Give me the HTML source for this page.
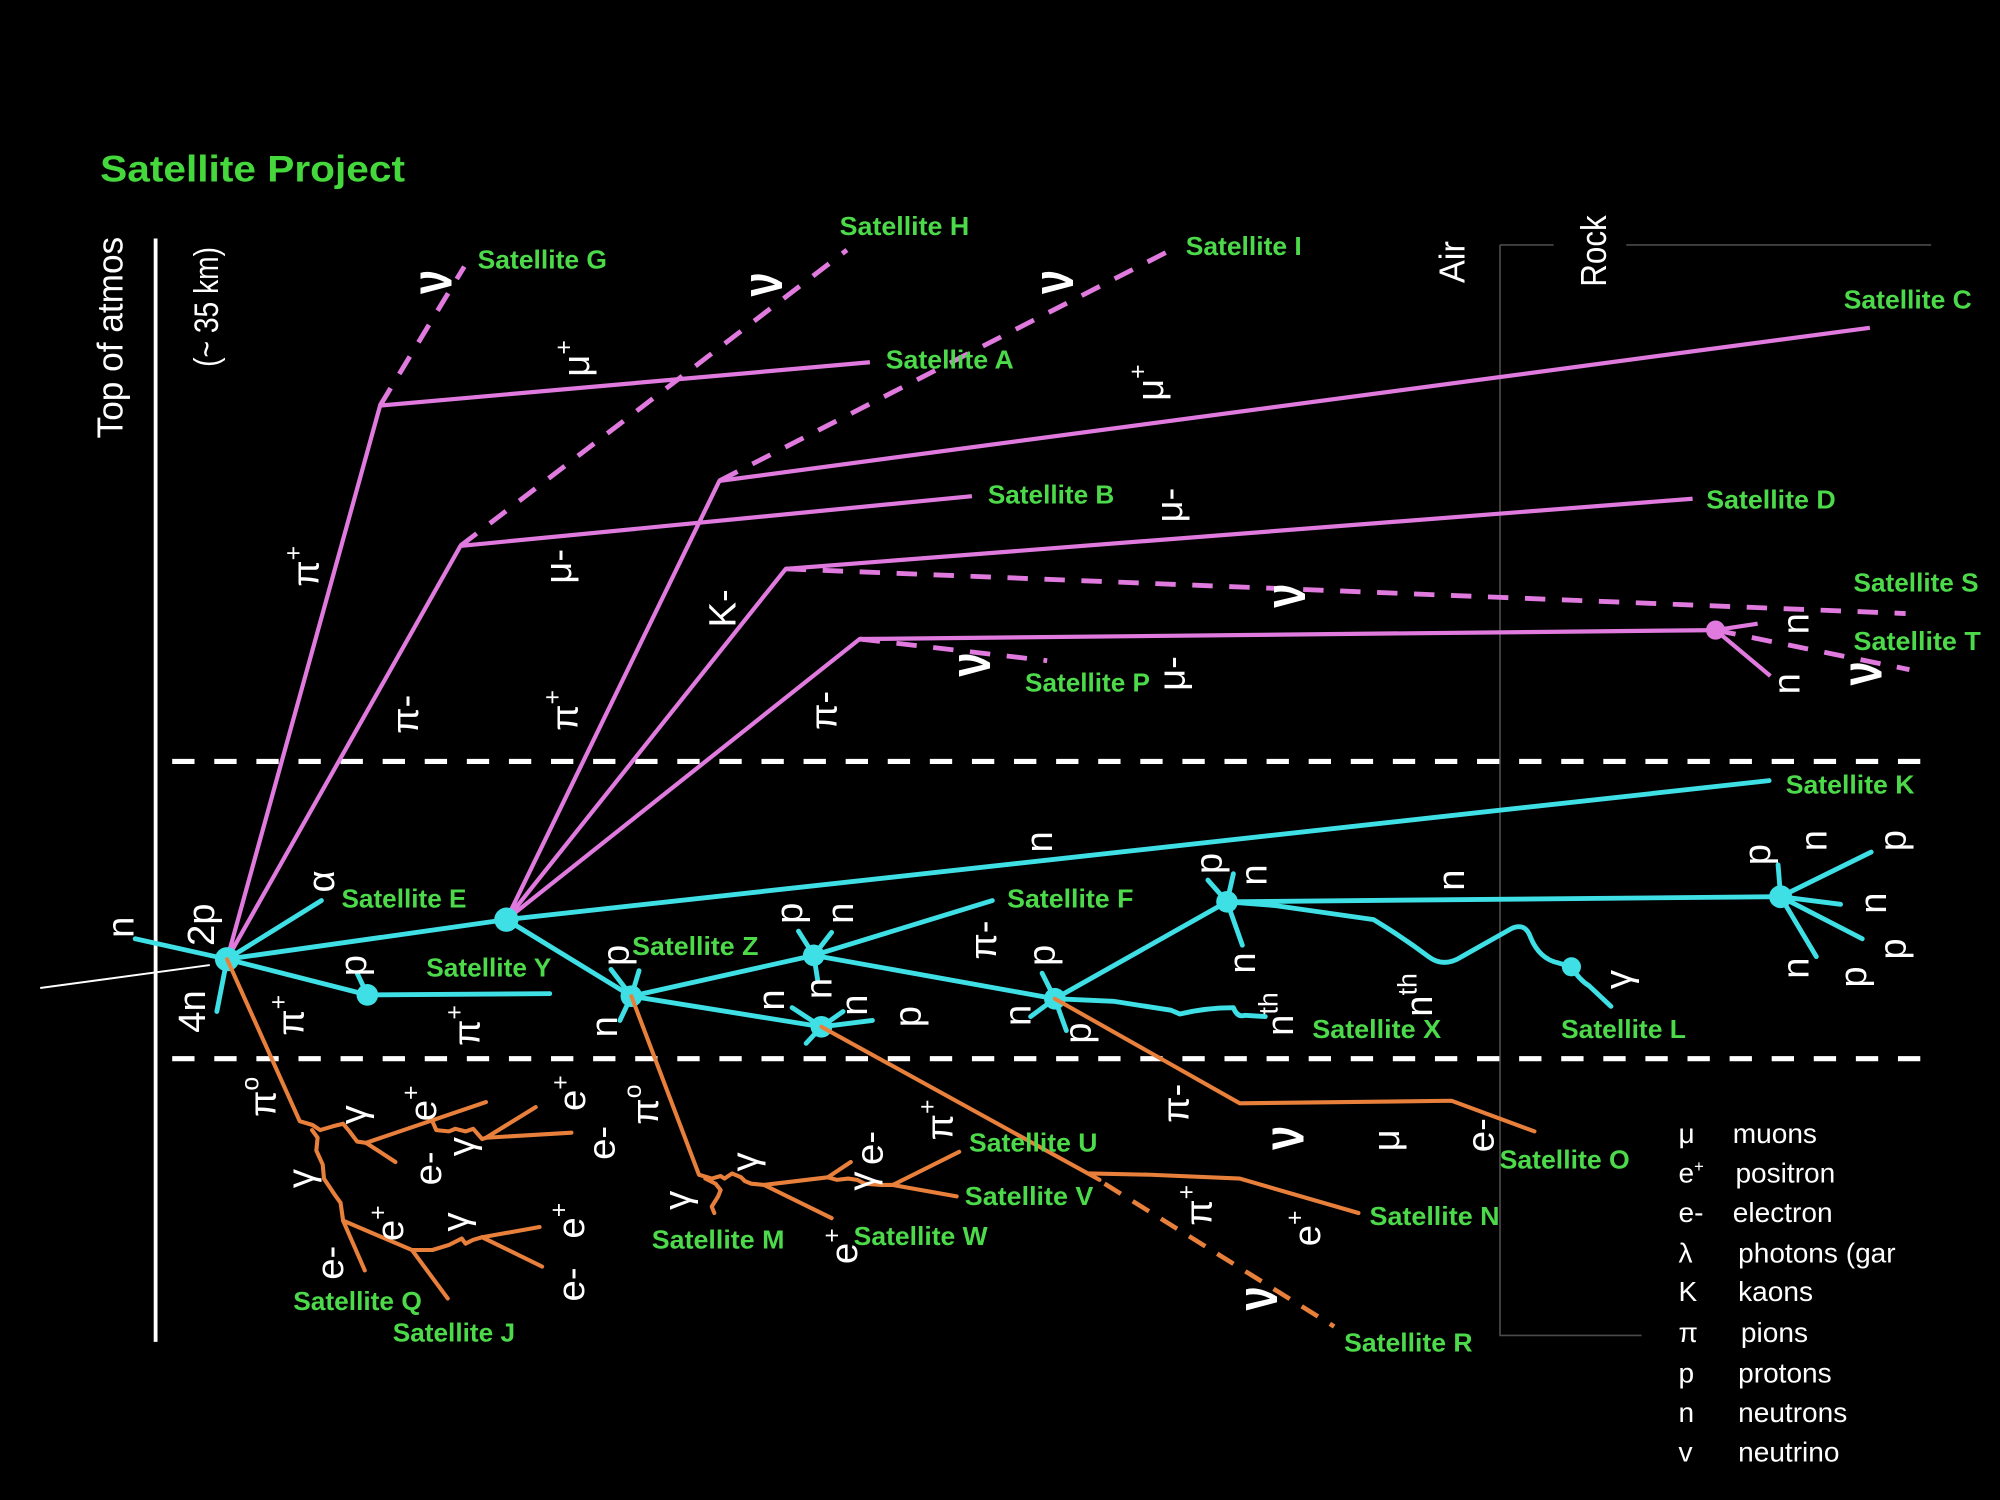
<!DOCTYPE html>
<html>
<head>
<meta charset="utf-8">
<style>
html,body{margin:0;padding:0;background:#000;overflow:hidden;}
svg{display:block;}
.w{fill:#fff;font-family:"Liberation Sans",sans-serif;font-size:30px;text-anchor:middle;dominant-baseline:central;}
.nu{fill:#fff;font-family:"Liberation Sans",sans-serif;font-size:34px;font-weight:bold;text-anchor:middle;dominant-baseline:central;}
.g{fill:#4cd94a;font-family:"Liberation Sans",sans-serif;font-weight:bold;font-size:20px;}
.lg{fill:#fff;font-family:"Liberation Sans",sans-serif;font-size:22px;}
.pk{stroke:#e07adf;stroke-width:3.3;fill:none;stroke-linejoin:round;}
.pkd{stroke:#e07adf;stroke-width:3.8;fill:none;stroke-dasharray:16 13;}
.cy{stroke:#3fdfe6;stroke-width:3.8;fill:none;stroke-linejoin:round;stroke-linecap:round;}
.or{stroke:#e8803c;stroke-width:3.2;fill:none;stroke-linejoin:round;stroke-linecap:round;}
.ord{stroke:#e8803c;stroke-width:3.6;fill:none;stroke-dasharray:15 11;}
</style>
</head>
<body>
<svg width="2000" height="1500" viewBox="0 0 1568 1176" xmlns="http://www.w3.org/2000/svg">
<rect x="0" y="0" width="1568" height="1176" fill="#000"/>

<!-- gray region box -->
<path d="M1176,192 V1047 H1287 M1176,192 H1218 M1275,192 H1514" stroke="#4a4a4a" stroke-width="1.3" fill="none"/>

<!-- title -->
<text x="78.5" y="142.5" textLength="239" lengthAdjust="spacingAndGlyphs" style="fill:#45d83c;font-family:'Liberation Sans',sans-serif;font-weight:bold;font-size:29px;">Satellite Project</text>

<!-- left axis -->
<line x1="122" y1="187" x2="122" y2="1052" stroke="#fff" stroke-width="3"/>
<line x1="31.5" y1="774.6" x2="164.5" y2="756.6" stroke="#fff" stroke-width="1.5"/>
<text transform="translate(96,343.7) rotate(-90)" textLength="158" lengthAdjust="spacingAndGlyphs" style="fill:#fff;font-family:'Liberation Sans',sans-serif;font-size:28px;">Top of atmos</text>
<text transform="translate(171,287.6) rotate(-90)" textLength="94" lengthAdjust="spacingAndGlyphs" style="fill:#fff;font-family:'Liberation Sans',sans-serif;font-size:27px;">(~ 35 km)</text>

<!-- Air / Rock -->
<text transform="translate(1148,222) rotate(-90)" textLength="33" lengthAdjust="spacingAndGlyphs" style="fill:#fff;font-family:'Liberation Sans',sans-serif;font-size:28px;">Air</text>
<text transform="translate(1259,224.8) rotate(-90)" textLength="56" lengthAdjust="spacingAndGlyphs" style="fill:#fff;font-family:'Liberation Sans',sans-serif;font-size:28px;">Rock</text>

<!-- dashed white band lines -->
<line x1="135" y1="597" x2="1510" y2="597" stroke="#fff" stroke-width="4" stroke-dasharray="17.5 15.5"/>
<line x1="135" y1="830" x2="1510" y2="830" stroke="#fff" stroke-width="4" stroke-dasharray="17.5 15.5"/>

<!-- pink lines -->
<path class="pk" d="M178,752 L298,318 L682,284"/>
<path class="pkd" d="M298,318 L364,209"/>
<path class="pk" d="M178,752 L361,428 L762,389"/>
<path class="pkd" d="M361,428 L664,196"/>
<path class="pk" d="M397,721 L564,377 L1466,257"/>
<path class="pkd" d="M564,377 L916,197"/>
<path class="pk" d="M397,721 L616,446 L1327,391"/>
<path class="pkd" d="M616,446 L1494,481"/>
<path class="pk" d="M397,721 L674,501 L1345,494"/>
<path class="pkd" d="M674,501 L821,518"/>
<path class="pk" d="M1345,494 L1378,489 M1345,494 L1388,530"/>
<path class="pkd" d="M1345,494 L1497,525"/>
<circle cx="1345" cy="494" r="7.5" fill="#e07adf"/>

<!-- cyan lines -->
<path class="cy" d="M106,736 L178,752"/>
<path class="cy" d="M178,752 L252,706"/>
<path class="cy" d="M178,752 L170,793"/>
<path class="cy" d="M178,752 L397,721"/>
<path class="cy" d="M178,752 L288,780 L431,779"/>
<path class="cy" d="M288,780 L280,763"/>
<path class="cy" d="M397,721 L1387,612"/>
<path class="cy" d="M397,721 L495,781"/>
<path class="cy" d="M495,781 L479,760 M495,781 L501,761 M495,781 L486,800"/>
<path class="cy" d="M495,781 L638,749"/>
<path class="cy" d="M638,749 L626,730 M638,749 L652,731 M638,749 L641,768"/>
<path class="cy" d="M638,749 L778,706"/>
<path class="cy" d="M495,781 L644,805"/>
<path class="cy" d="M644,805 L621,790 M644,805 L661,793 M644,805 L684,800 M644,805 L632,818"/>
<path class="cy" d="M638,749 L827,783"/>
<path class="cy" d="M827,783 L817,763 M827,783 L808,797 M827,783 L836,808"/>
<path class="cy" d="M827,783 L962,707"/>
<path class="cy" d="M962,707 L947,690 M962,707 L967,685 M962,707 L974,741"/>
<path class="cy" d="M962,707 L1396,703"/>
<path class="cy" d="M1396,703 L1394,678 M1396,703 L1467,668 M1396,703 L1443,709 M1396,703 L1460,736 M1396,703 L1424,750"/>
<path class="cy" d="M962,707 L1000,710 L1077,721 Q1100,735 1120,750 Q1132,759 1146,750 L1185,728 Q1196,723 1200,735 Q1207,752 1222,755 L1232,758 Q1238,768 1246,773 L1263,789"/>
<path class="cy" d="M827,783 L873,785 L918,792 L925,795 Q945,790 967,790 Q970,798 976,796 L992,797"/>
<circle cx="178" cy="752" r="9.5" fill="#3fdfe6"/>
<circle cx="397" cy="721" r="9.5" fill="#3fdfe6"/>
<circle cx="288" cy="780" r="8.5" fill="#3fdfe6"/>
<circle cx="495" cy="781" r="8.5" fill="#3fdfe6"/>
<circle cx="638" cy="749" r="8.5" fill="#3fdfe6"/>
<circle cx="644" cy="805" r="8.5" fill="#3fdfe6"/>
<circle cx="827" cy="783" r="8.5" fill="#3fdfe6"/>
<circle cx="962" cy="707" r="8.5" fill="#3fdfe6"/>
<circle cx="1396" cy="703" r="9" fill="#3fdfe6"/>
<circle cx="1232" cy="758" r="7.5" fill="#3fdfe6"/>

<!-- orange lines -->
<path class="or" d="M178,752 L235,879 L245,882 L251,886 L261,883 L269,881 L274,887 L280,895 L287,896 L381,864"/>
<path class="or" d="M287,896 L310,911"/>
<path class="or" d="M339,879 L342,886 L352,887 L357,885 L365,887 L371,885 L378,893 L381,892 L420,868"/>
<path class="or" d="M381,892 L448,888"/>
<path class="or" d="M244.6,886 L249,892 L248,902 L253,913 L254,924 L262,936 L267,943 L269,957 L286,996"/>
<path class="or" d="M269,957 L323,980 L351,1018"/>
<path class="or" d="M323,980 L339,980 L352,976 L362,971 L365,975 L371,972 L378,970 L423,962"/>
<path class="or" d="M378,970 L425,993"/>
<path class="or" d="M495,781 L548,921 L558,924 L565,922 L568,924 L574,920 L581,923 L584,926 L589,928 L599,929 L652,955"/>
<path class="or" d="M553,924 L561,928 L565,933 L563,938 L558,946 L560,951"/>
<path class="or" d="M599,929 L649,923 L667,911"/>
<path class="or" d="M649,923 L656,925 L665,924 L672,925 L678,928 L691,929 L700,929 L752,903"/>
<path class="or" d="M700,929 L750,938"/>
<path class="or" d="M644,805 L862,925"/>
<path class="or" d="M854,920 L902,921 L972,924 L1065,951"/>
<path class="ord" d="M866,928 L1046,1040"/>
<path class="or" d="M827,783 L972,865 L1138,863 L1203,887"/>

<!-- white particle labels -->
<g>
<text class="nu" transform="translate(338,221) rotate(-90) scale(1,1.35)">ν</text>
<text class="nu" transform="translate(597,223) rotate(-90) scale(1,1.35)">ν</text>
<text class="nu" transform="translate(825,221) rotate(-90) scale(1,1.35)">ν</text>
<text class="nu" transform="translate(1007,467) rotate(-90) scale(1,1.35)">ν</text>
<text class="nu" transform="translate(760,521) rotate(-90) scale(1,1.35)">ν</text>
<text class="nu" transform="translate(1459,528) rotate(-90) scale(1,1.35)">ν</text>
<text class="nu" transform="translate(1006,892) rotate(-90) scale(1,1.35)">ν</text>
<text class="nu" transform="translate(985,1018) rotate(-90) scale(1,1.35)">ν</text>

<text class="w" transform="translate(452,281) rotate(-90)">μ<tspan dy="-0.5em" font-size="0.65em">+</tspan></text>
<text class="w" transform="translate(902,300) rotate(-90)">μ<tspan dy="-0.5em" font-size="0.65em">+</tspan></text>
<text class="w" transform="translate(438,444) rotate(-90)">μ-</text>
<text class="w" transform="translate(917,396) rotate(-90)">μ-</text>
<text class="w" transform="translate(919,528) rotate(-90)">μ-</text>
<text class="w" transform="translate(1087,894) rotate(-90)">μ</text>

<text class="w" transform="translate(240,444) rotate(-90)">π<tspan dy="-0.5em" font-size="0.65em">+</tspan></text>
<text class="w" transform="translate(443,557) rotate(-90)">π<tspan dy="-0.5em" font-size="0.65em">+</tspan></text>
<text class="w" transform="translate(228,796) rotate(-90)">π<tspan dy="-0.5em" font-size="0.65em">+</tspan></text>
<text class="w" transform="translate(366,804) rotate(-90)">π<tspan dy="-0.5em" font-size="0.65em">+</tspan></text>
<text class="w" transform="translate(737,878) rotate(-90)">π<tspan dy="-0.5em" font-size="0.65em">+</tspan></text>
<text class="w" transform="translate(940,945) rotate(-90)">π<tspan dy="-0.5em" font-size="0.65em">+</tspan></text>
<text class="w" transform="translate(318,560) rotate(-90)">π-</text>
<text class="w" transform="translate(646,557) rotate(-90)">π-</text>
<text class="w" transform="translate(771,737) rotate(-90)">π-</text>
<text class="w" transform="translate(922,865) rotate(-90)">π-</text>
<text class="w" transform="translate(206,860) rotate(-90)">π<tspan dy="-0.5em" font-size="0.65em">o</tspan></text>
<text class="w" transform="translate(506,866) rotate(-90)">π<tspan dy="-0.5em" font-size="0.65em">o</tspan></text>
<text class="w" transform="translate(567,477) rotate(-90)">K-</text>

<text class="w" transform="translate(95,727) rotate(-90)">n</text>
<text class="w" transform="translate(1408,489) rotate(-90)">n</text>
<text class="w" transform="translate(1401,536) rotate(-90)">n</text>
<text class="w" transform="translate(474,805) rotate(-90)">n</text>
<text class="w" transform="translate(815,660) rotate(-90)">n</text>
<text class="w" transform="translate(659,716) rotate(-90)">n</text>
<text class="w" transform="translate(642,775) rotate(-90)">n</text>
<text class="w" transform="translate(605,784) rotate(-90)">n</text>
<text class="w" transform="translate(670,788) rotate(-90)">n</text>
<text class="w" transform="translate(798,796) rotate(-90)">n</text>
<text class="w" transform="translate(983,686) rotate(-90)">n</text>
<text class="w" transform="translate(974,755) rotate(-90)">n</text>
<text class="w" transform="translate(1138,690) rotate(-90)">n</text>
<text class="w" transform="translate(1422,659) rotate(-90)">n</text>
<text class="w" transform="translate(1469,708) rotate(-90)">n</text>
<text class="w" transform="translate(1408,759) rotate(-90)">n</text>

<text class="w" transform="translate(277,757) rotate(-90)">p</text>
<text class="w" transform="translate(483,749) rotate(-90)">p</text>
<text class="w" transform="translate(619,716) rotate(-90)">p</text>
<text class="w" transform="translate(712,797) rotate(-90)">p</text>
<text class="w" transform="translate(817,749) rotate(-90)">p</text>
<text class="w" transform="translate(845,810) rotate(-90)">p</text>
<text class="w" transform="translate(948,677) rotate(-90)">p</text>
<text class="w" transform="translate(1378,670) rotate(-90)">p</text>
<text class="w" transform="translate(1484,659) rotate(-90)">p</text>
<text class="w" transform="translate(1484,744) rotate(-90)">p</text>
<text class="w" transform="translate(1453,766) rotate(-90)">p</text>

<text class="w" transform="translate(158,725) rotate(-90)">2p</text>
<text class="w" transform="translate(151,793) rotate(-90)">4n</text>
<text class="w" transform="translate(252,691) rotate(-90)">α</text>
<text class="w" transform="translate(1004,795) rotate(-90)">n<tspan dy="-0.45em" font-size="0.7em">th</tspan></text>
<text class="w" transform="translate(1113,780) rotate(-90)">n<tspan dy="-0.45em" font-size="0.7em">th</tspan></text>

<text class="w" transform="translate(1269,768) rotate(-90)">γ</text>
<text class="w" transform="translate(277,874) rotate(-90)">γ</text>
<text class="w" transform="translate(362,899) rotate(-90)">γ</text>
<text class="w" transform="translate(236,924) rotate(-90)">γ</text>
<text class="w" transform="translate(357,958) rotate(-90)">γ</text>
<text class="w" transform="translate(584,911) rotate(-90)">γ</text>
<text class="w" transform="translate(531,941) rotate(-90)">γ</text>
<text class="w" transform="translate(676,926) rotate(-90)">γ</text>

<text class="w" transform="translate(332,865) rotate(-90)">e<tspan dy="-0.5em" font-size="0.65em">+</tspan></text>
<text class="w" transform="translate(449,857) rotate(-90)">e<tspan dy="-0.5em" font-size="0.65em">+</tspan></text>
<text class="w" transform="translate(306,959) rotate(-90)">e<tspan dy="-0.5em" font-size="0.65em">+</tspan></text>
<text class="w" transform="translate(448,957) rotate(-90)">e<tspan dy="-0.5em" font-size="0.65em">+</tspan></text>
<text class="w" transform="translate(662,977) rotate(-90)">e<tspan dy="-0.5em" font-size="0.65em">+</tspan></text>
<text class="w" transform="translate(1025,963) rotate(-90)">e<tspan dy="-0.5em" font-size="0.65em">+</tspan></text>
<text class="w" transform="translate(336,916) rotate(-90)">e-</text>
<text class="w" transform="translate(472,896) rotate(-90)">e-</text>
<text class="w" transform="translate(259,990) rotate(-90)">e-</text>
<text class="w" transform="translate(448,1007) rotate(-90)">e-</text>
<text class="w" transform="translate(682,900) rotate(-90)">e-</text>
<text class="w" transform="translate(1161,890) rotate(-90)">e-</text>
</g>

<!-- green satellite labels -->
<g class="g">
<text x="374.5" y="210.4" textLength="101.4" lengthAdjust="spacingAndGlyphs">Satellite G</text>
<text x="658.3" y="184.2" textLength="101.6" lengthAdjust="spacingAndGlyphs">Satellite H</text>
<text x="929.6" y="199.9" textLength="91" lengthAdjust="spacingAndGlyphs">Satellite I</text>
<text x="694.4" y="288.8" textLength="100.4" lengthAdjust="spacingAndGlyphs">Satellite A</text>
<text x="774.5" y="394.6" textLength="99.1" lengthAdjust="spacingAndGlyphs">Satellite B</text>
<text x="803.6" y="542.3" textLength="98" lengthAdjust="spacingAndGlyphs">Satellite P</text>
<text x="1445.5" y="241.7" textLength="100.4" lengthAdjust="spacingAndGlyphs">Satellite C</text>
<text x="1337.7" y="398.5" textLength="101.5" lengthAdjust="spacingAndGlyphs">Satellite D</text>
<text x="1453.2" y="463.9" textLength="98" lengthAdjust="spacingAndGlyphs">Satellite S</text>
<text x="1453.2" y="509.6" textLength="99.8" lengthAdjust="spacingAndGlyphs">Satellite T</text>
<text x="267.7" y="711.3" textLength="98" lengthAdjust="spacingAndGlyphs">Satellite E</text>
<text x="334.2" y="765.7" textLength="98" lengthAdjust="spacingAndGlyphs">Satellite Y</text>
<text x="495.6" y="748.7" textLength="99" lengthAdjust="spacingAndGlyphs">Satellite Z</text>
<text x="789.6" y="711.3" textLength="99" lengthAdjust="spacingAndGlyphs">Satellite F</text>
<text x="1400" y="622" textLength="101" lengthAdjust="spacingAndGlyphs">Satellite K</text>
<text x="1028.8" y="814" textLength="101" lengthAdjust="spacingAndGlyphs">Satellite X</text>
<text x="1223.8" y="814" textLength="98" lengthAdjust="spacingAndGlyphs">Satellite L</text>
<text x="229.9" y="1027" textLength="100.8" lengthAdjust="spacingAndGlyphs">Satellite Q</text>
<text x="307.9" y="1051.8" textLength="95.9" lengthAdjust="spacingAndGlyphs">Satellite J</text>
<text x="511" y="978.7" textLength="104" lengthAdjust="spacingAndGlyphs">Satellite M</text>
<text x="669.3" y="976" textLength="105" lengthAdjust="spacingAndGlyphs">Satellite W</text>
<text x="759.7" y="902.9" textLength="100.7" lengthAdjust="spacingAndGlyphs">Satellite U</text>
<text x="756.4" y="944.7" textLength="100.8" lengthAdjust="spacingAndGlyphs">Satellite V</text>
<text x="1175.7" y="916" textLength="102" lengthAdjust="spacingAndGlyphs">Satellite O</text>
<text x="1073.7" y="960.4" textLength="102" lengthAdjust="spacingAndGlyphs">Satellite N</text>
<text x="1053.8" y="1059.7" textLength="100.7" lengthAdjust="spacingAndGlyphs">Satellite R</text>
</g>

<!-- legend -->
<g class="lg">
<text x="1316" y="896">μ</text><text x="1358.5" y="896">muons</text>
<text x="1316" y="927">e<tspan dy="-8" font-size="13">+</tspan></text><text x="1360.6" y="927">positron</text>
<text x="1316" y="958">e-</text><text x="1358.5" y="958">electron</text>
<text x="1316" y="990">λ</text><text x="1362.7" y="990">photons (gar</text>
<text x="1316" y="1020">K</text><text x="1362.7" y="1020">kaons</text>
<text x="1316" y="1052">π</text><text x="1364.9" y="1052">pions</text>
<text x="1316" y="1084">p</text><text x="1362.7" y="1084">protons</text>
<text x="1316" y="1115">n</text><text x="1362.7" y="1115">neutrons</text>
<text x="1316" y="1146">v</text><text x="1362.7" y="1146">neutrino</text>
</g>
</svg>
</body>
</html>
